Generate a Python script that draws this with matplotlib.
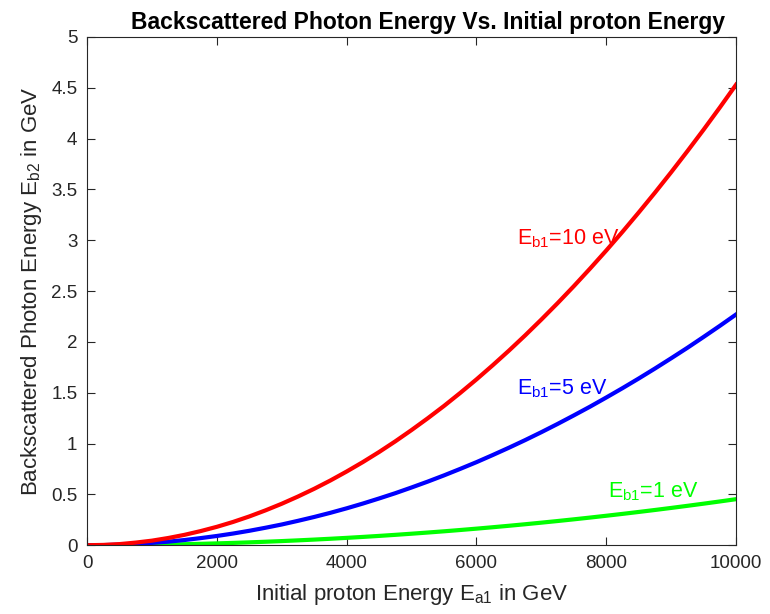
import numpy as np
import matplotlib
matplotlib.use("Agg")
import matplotlib.pyplot as plt

plt.rcParams['font.family'] = ['Liberation Sans', 'DejaVu Sans']
plt.rcParams['mathtext.default'] = 'regular'

# initial proton energy (GeV)
E_a1 = [0, 250, 500, 750, 1000, 1250, 1500, 1750, 2000, 2250, 2500,
        2750, 3000, 3250, 3500, 3750, 4000, 4250, 4500, 4750, 5000,
        5250, 5500, 5750, 6000, 6250, 6500, 6750, 7000, 7250, 7500,
        7750, 8000, 8250, 8500, 8750, 9000, 9250, 9500, 9750, 10000]

# backscattered photon energy (GeV)
E_b2_10eV = [0, 0.003, 0.011, 0.026, 0.045, 0.071, 0.102, 0.139, 0.181, 0.229, 0.283,
             0.343, 0.408, 0.479, 0.555, 0.637, 0.725, 0.818, 0.917, 1.022, 1.133,
             1.249, 1.370, 1.498, 1.631, 1.770, 1.914, 2.064, 2.220, 2.381, 2.548,
             2.721, 2.899, 3.083, 3.273, 3.468, 3.669, 3.876, 4.088, 4.306, 4.53]
E_b2_5eV = [0, 0.001, 0.006, 0.013, 0.023, 0.035, 0.051, 0.070, 0.091, 0.115, 0.142,
            0.172, 0.204, 0.240, 0.278, 0.319, 0.363, 0.410, 0.460, 0.512, 0.568,
            0.626, 0.687, 0.751, 0.817, 0.887, 0.959, 1.034, 1.112, 1.193, 1.277,
            1.363, 1.453, 1.545, 1.640, 1.738, 1.839, 1.942, 2.049, 2.158, 2.27]
E_b2_1eV = [0, 0.0003, 0.0011, 0.0025, 0.0045, 0.0071, 0.0102, 0.0139, 0.0181, 0.0229, 0.0283,
            0.0343, 0.0408, 0.0479, 0.0555, 0.0637, 0.0725, 0.0818, 0.0917, 0.1022, 0.1133,
            0.1249, 0.1370, 0.1498, 0.1631, 0.1770, 0.1914, 0.2064, 0.2220, 0.2381, 0.2548,
            0.2721, 0.2899, 0.3083, 0.3273, 0.3468, 0.3669, 0.3876, 0.4088, 0.4306, 0.453]

fig = plt.figure(figsize=(7.7, 6.14), dpi=100)
ax = fig.add_axes([0.113, 0.112, 0.843, 0.828])

ax.plot(E_a1, E_b2_1eV, color=(0, 1, 0), lw=3)
ax.plot(E_a1, E_b2_5eV, color=(0, 0, 1), lw=3)
ax.plot(E_a1, E_b2_10eV, color=(1, 0, 0), lw=3)

ax.text(6630, 2.96, '$E_{b1}$=10 eV', color=(1, 0, 0), fontsize=15.5)
ax.text(6630, 1.48, '$E_{b1}$=5 eV', color=(0, 0, 1), fontsize=15.5)
ax.text(8030, 0.47, '$E_{b1}$=1 eV', color=(0, 1, 0), fontsize=15.5)

ax.set_xlim(0, 10000)
ax.set_ylim(0, 5)
ax.set_xticks(np.arange(0, 10001, 2000))
ax.set_yticks(np.arange(0, 5.01, 0.5))
ax.set_yticklabels(['0', '0.5', '1', '1.5', '2', '2.5', '3', '3.5', '4', '4.5', '5'])

ax.tick_params(direction='in', top=True, right=True, length=6, width=0.8,
               labelsize=13.5, colors=(0.15, 0.15, 0.15), pad=7)
for s in ax.spines.values():
    s.set_color((0.15, 0.15, 0.15))
    s.set_linewidth(0.8)

ax.set_title('Backscattered Photon Energy Vs. Initial proton Energy',
             fontsize=16.5, fontweight='bold', pad=6, x=0.525)
ax.set_xlabel('Initial proton Energy $E_{a1}$ in GeV', fontsize=16,
              color=(0.15, 0.15, 0.15), labelpad=7)
ax.set_ylabel('Backscattered Photon Energy $E_{b2}$ in GeV', fontsize=16,
              color=(0.15, 0.15, 0.15), labelpad=5)

fig.savefig('out.png', dpi=100)
